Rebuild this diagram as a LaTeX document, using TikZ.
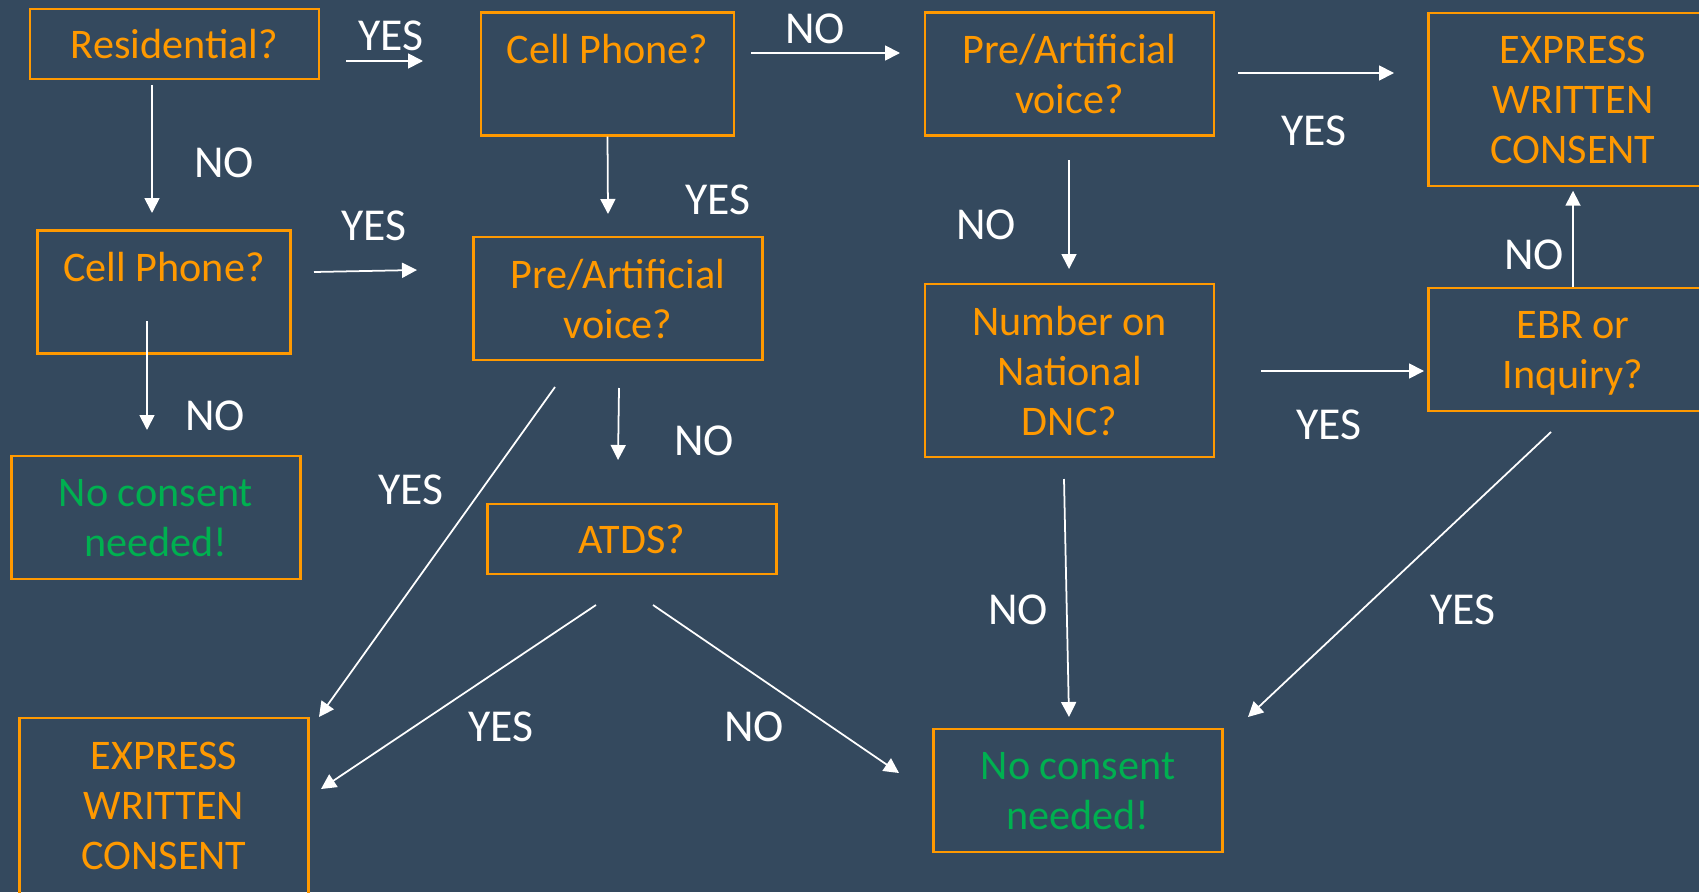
\documentclass[tikz,border=0pt]{standalone}
\usepackage{fontspec}
\setmainfont{Carlito}
\usepackage{xcolor}
\usetikzlibrary{arrows.meta}

\definecolor{slide}{RGB}{52,73,94}
\definecolor{qorange}{RGB}{255,153,0}
\definecolor{okgreen}{RGB}{0,176,80}

\begin{document}
\begin{tikzpicture}[x=0.02cm,y=-0.02cm,
	qbox/.style={draw=qorange,line width=1.4pt,text=qorange,align=center,inner sep=0pt,text depth=0pt,
		minimum width=5.78cm,minimum height=2.46cm,font=\fontsize{24}{28.45}\selectfont},
	okbox/.style={qbox,text=okgreen},
	lbl/.style={text=white,inner sep=0pt,font=\fontsize{26}{30}\selectfont},
	arr/.style={draw=white,line width=1pt,-{Triangle[length=0.3cm,width=0.3cm]}}]
	\useasboundingbox (0,0) rectangle (1699,892);
	\clip (0,0) rectangle (1699,892);
	\fill[slide] (0,0) rectangle (1699,892);

	\node[qbox,minimum height=1.4cm] (res) at (174.5,44) {Residential?};
	\node[qbox,minimum width=5.06cm] (cellA) at (607.5,74) {Cell Phone?\\~};
	\node[qbox] (preA) at (1069.5,74) {Pre/Artificial\\voice?};
	\node[qbox,minimum height=3.46cm] (ewcA) at (1573,99.5) {EXPRESS\\WRITTEN\\CONSENT};
	\node[qbox,minimum width=5.06cm] (cellB) at (164,292) {Cell Phone?\\~};
	\node[qbox] (preB) at (618,298.5) {Pre/Artificial\\voice?};
	\node[qbox,minimum height=3.46cm] (dnc) at (1069.5,370.5) {Number on\\National\\DNC?};
	\node[qbox] (ebr) at (1573,349.5) {EBR or\\Inquiry?};
	\node[okbox] (noA) at (156,517.5) {No consent\\needed!};
	\node[qbox,minimum height=1.4cm] (atds) at (632,539) {ATDS?};
	\node[qbox,minimum height=3.52cm] (ewcB) at (164,806) {EXPRESS\\WRITTEN\\CONSENT};
	\node[okbox] (noB) at (1078,790.5) {No consent\\needed!};

	\coordinate (resY1) at (346,61); \coordinate (resY2) at (423,61);
	\coordinate (resN1) at (152,85); \coordinate (resN2) at (152,213);
	\coordinate (cellAY2) at (608,214);
	\coordinate (cellAN1) at (751,53); \coordinate (cellAN2) at (900,53);
	\coordinate (preAY1) at (1238,73); \coordinate (preAY2) at (1394,73);
	\coordinate (preAN1) at (1069,160); \coordinate (preAN2) at (1069,269);
	\coordinate (cellBY1) at (314,272); \coordinate (cellBY2) at (417,270);
	\coordinate (cellBN1) at (147,321); \coordinate (cellBN2) at (147,430);
	\coordinate (preBY1) at (555,387); \coordinate (preBY2) at (319,717);
	\coordinate (preBN1) at (619,388); \coordinate (preBN2) at (618,460);
	\coordinate (atdsY1) at (596,605); \coordinate (atdsY2) at (321,789);
	\coordinate (atdsN1) at (653,605); \coordinate (atdsN2) at (899,773);
	\coordinate (dncY1) at (1261,371); \coordinate (dncY2) at (1424,371);
	\coordinate (dncN1) at (1064,479); \coordinate (dncN2) at (1069,717);
	\coordinate (ebrY1) at (1551,432); \coordinate (ebrY2) at (1248,717);

	\draw[arr] (resY1) -- (resY2);
	\draw[arr] (resN1) -- (resN2);
	\draw[arr] (cellA.south) -- (cellAY2);
	\draw[arr] (cellAN1) -- (cellAN2);
	\draw[arr] (preAY1) -- (preAY2);
	\draw[arr] (preAN1) -- (preAN2);
	\draw[arr] (cellBY1) -- (cellBY2);
	\draw[arr] (cellBN1) -- (cellBN2);
	\draw[arr] (preBY1) -- (preBY2);
	\draw[arr] (preBN1) -- (preBN2);
	\draw[arr] (atdsY1) -- (atdsY2);
	\draw[arr] (atdsN1) -- (atdsN2);
	\draw[arr] (dncY1) -- (dncY2);
	\draw[arr] (dncN1) -- (dncN2);
	\draw[arr,shorten >=2pt] (ebr.north) -- (ewcA.south);
	\draw[arr] (ebrY1) -- (ebrY2);

	\node[lbl] (resYes) at (391,36) {YES};
	\node[lbl] (resNo) at (224,163) {NO};
	\node[lbl] (cellAYes) at (718,200) {YES};
	\node[lbl] (cellANo) at (815,29) {NO};
	\node[lbl] (preAYes) at (1314,131) {YES};
	\node[lbl] (preANo) at (986,225) {NO};
	\node[lbl] (cellBYes) at (374,226) {YES};
	\node[lbl] (cellBNo) at (215,416) {NO};
	\node[lbl] (preBYes) at (411,490) {YES};
	\node[lbl] (preBNo) at (704,441) {NO};
	\node[lbl] (atdsYes) at (501,727) {YES};
	\node[lbl] (atdsNo) at (754,727) {NO};
	\node[lbl] (dncYes) at (1329,425) {YES};
	\node[lbl] (dncNo) at (1018,610) {NO};
	\node[lbl] (ebrNo) at (1534,255) {NO};
	\node[lbl] (ebrYes) at (1463,610) {YES};
\end{tikzpicture}
\end{document}
